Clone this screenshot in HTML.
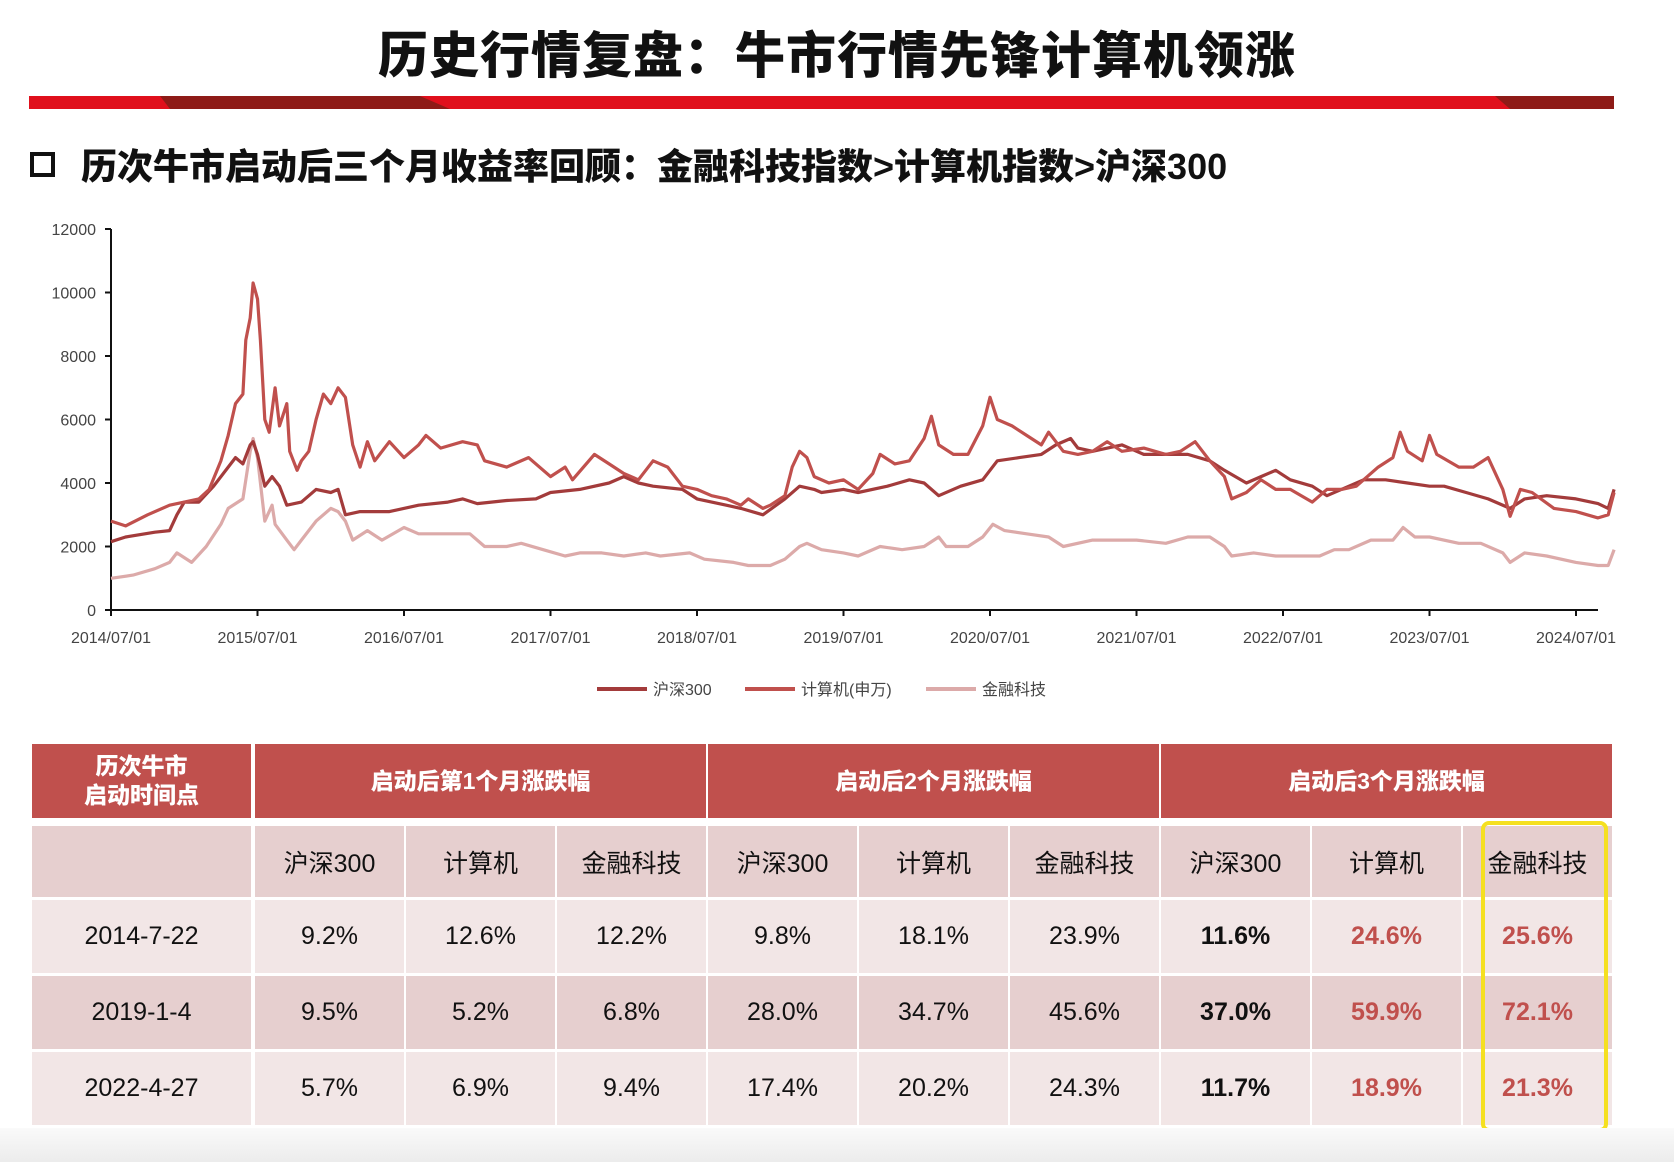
<!DOCTYPE html>
<html><head><meta charset="utf-8">
<style>
body{margin:0;width:1674px;height:1162px;position:relative;overflow:hidden;background:#fff;font-family:"Liberation Sans","Noto Sans CJK SC",sans-serif;}
.abs{position:absolute;}
#title{left:0;width:1674px;top:16px;text-align:center;font-size:50px;font-weight:900;color:#111;letter-spacing:1px;font-family:"Noto Sans CJK SC",sans-serif;}
#sub{left:81px;top:138px;font-size:36px;font-weight:900;color:#111;font-family:"Liberation Sans","Noto Sans CJK SC",sans-serif;}
#box{left:30px;top:152px;width:17px;height:17px;border:4px solid #111;}
.cell{position:absolute;display:flex;align-items:center;justify-content:center;text-align:center;font-size:25px;color:#111;box-sizing:border-box;font-family:"Liberation Sans","Noto Sans CJK SC",sans-serif;}
.hd{background:#c0504d;color:#fff;font-weight:900;font-size:23px;line-height:29px;}
</style></head><body>
<div id="title" class="abs">历史行情复盘：牛市行情先锋计算机领涨</div>
<svg class="abs" style="left:0;top:0" width="1674" height="130">
<rect x="29" y="96" width="1585" height="13" fill="#e0101c"/>
<polygon points="160,96 420,96 450,109 170,109" fill="#8e1b17"/>
<polygon points="1495,96 1614,96 1614,109 1510,109" fill="#8e1b17"/>
</svg>
<div id="box" class="abs"></div>
<div id="sub" class="abs">历次牛市启动后三个月收益率回顾：金融科技指数&gt;计算机指数&gt;沪深300</div>
<svg id="chart" class="abs" style="left:0;top:0" width="1674" height="720"></svg>
<div id="tbl"></div>
<div class="abs" style="left:1481px;top:821px;width:119px;height:303px;border:4px solid #f5e020;border-radius:8px"></div>
<div class="abs" style="left:0;top:1128px;width:1674px;height:34px;background:linear-gradient(#fafafa,#ececec)"></div>
<script>
const yTicks=[0,2000,4000,6000,8000,10000,12000];
const xTickLabels=["2014/07/01","2015/07/01","2016/07/01","2017/07/01","2018/07/01","2019/07/01","2020/07/01","2021/07/01","2022/07/01","2023/07/01","2024/07/01"];
const seriesNames=["沪深300","计算机(申万)","金融科技"];
const hs300T=[2014.5,2014.6,2014.8,2014.9,2014.95,2015.0,2015.1,2015.2,2015.3,2015.35,2015.4,2015.45,2015.47,2015.5,2015.55,2015.6,2015.65,2015.7,2015.8,2015.9,2016.0,2016.05,2016.1,2016.2,2016.4,2016.6,2016.8,2016.9,2017.0,2017.2,2017.4,2017.5,2017.7,2017.9,2018.0,2018.1,2018.2,2018.4,2018.5,2018.7,2018.8,2018.95,2019.1,2019.2,2019.3,2019.35,2019.5,2019.6,2019.8,2019.95,2020.05,2020.15,2020.3,2020.45,2020.55,2020.7,2020.85,2020.95,2021.05,2021.1,2021.2,2021.4,2021.55,2021.7,2021.85,2022.0,2022.1,2022.25,2022.35,2022.45,2022.55,2022.7,2022.8,2022.95,2023.05,2023.2,2023.35,2023.5,2023.6,2023.75,2023.9,2024.05,2024.15,2024.3,2024.5,2024.65,2024.72,2024.76];
const hs300V=[2150,2300,2450,2500,3000,3400,3400,3900,4500,4800,4600,5200,5300,4900,3900,4200,3900,3300,3400,3800,3700,3800,3000,3100,3100,3300,3400,3500,3350,3450,3500,3700,3800,4000,4200,4000,3900,3800,3500,3300,3200,3000,3500,3900,3800,3700,3800,3700,3900,4100,4000,3600,3900,4100,4700,4800,4900,5200,5400,5100,5000,5200,4900,4900,4900,4700,4400,4000,4200,4400,4100,3900,3600,3900,4100,4100,4000,3900,3900,3700,3500,3200,3500,3600,3500,3350,3200,3800];
const compT=[2014.5,2014.6,2014.75,2014.9,2015.0,2015.1,2015.17,2015.25,2015.3,2015.35,2015.4,2015.42,2015.45,2015.47,2015.5,2015.52,2015.55,2015.58,2015.62,2015.65,2015.7,2015.72,2015.77,2015.8,2015.85,2015.9,2015.95,2016.0,2016.05,2016.1,2016.15,2016.2,2016.25,2016.3,2016.4,2016.5,2016.6,2016.65,2016.75,2016.9,2017.0,2017.05,2017.2,2017.35,2017.5,2017.6,2017.65,2017.8,2017.9,2018.0,2018.1,2018.2,2018.3,2018.4,2018.5,2018.6,2018.7,2018.8,2018.85,2018.95,2019.0,2019.1,2019.15,2019.2,2019.25,2019.3,2019.4,2019.5,2019.6,2019.7,2019.75,2019.85,2019.95,2020.05,2020.1,2020.15,2020.25,2020.35,2020.45,2020.5,2020.55,2020.65,2020.75,2020.85,2020.9,2021.0,2021.1,2021.2,2021.3,2021.4,2021.55,2021.7,2021.8,2021.9,2022.0,2022.1,2022.15,2022.25,2022.35,2022.45,2022.55,2022.7,2022.8,2022.9,2023.0,2023.15,2023.25,2023.3,2023.35,2023.45,2023.5,2023.55,2023.7,2023.8,2023.9,2024.0,2024.05,2024.12,2024.2,2024.35,2024.5,2024.65,2024.72,2024.76];
const compV=[2800,2650,3000,3300,3400,3500,3800,4700,5500,6500,6800,8500,9200,10300,9800,8500,6000,5600,7000,5800,6500,5000,4400,4700,5000,6000,6800,6500,7000,6700,5200,4500,5300,4700,5300,4800,5200,5500,5100,5300,5200,4700,4500,4800,4200,4500,4100,4900,4600,4300,4100,4700,4500,3900,3800,3600,3500,3300,3500,3200,3300,3600,4500,5000,4800,4200,4000,4100,3800,4300,4900,4600,4700,5400,6100,5200,4900,4900,5800,6700,6000,5800,5500,5200,5600,5000,4900,5000,5300,5000,5100,4900,5000,5300,4700,4200,3500,3700,4100,3800,3800,3400,3800,3800,3900,4500,4800,5600,5000,4700,5500,4900,4500,4500,4800,3800,2950,3800,3700,3200,3100,2900,3000,3700];
const finT=[2014.5,2014.65,2014.8,2014.9,2014.95,2015.05,2015.15,2015.25,2015.3,2015.4,2015.45,2015.47,2015.5,2015.55,2015.6,2015.62,2015.7,2015.75,2015.8,2015.9,2016.0,2016.05,2016.1,2016.15,2016.25,2016.35,2016.5,2016.6,2016.8,2016.95,2017.05,2017.2,2017.3,2017.45,2017.6,2017.7,2017.85,2018.0,2018.15,2018.25,2018.45,2018.55,2018.75,2018.85,2019.0,2019.1,2019.2,2019.25,2019.35,2019.5,2019.6,2019.75,2019.9,2020.05,2020.15,2020.2,2020.35,2020.45,2020.52,2020.6,2020.75,2020.9,2021.0,2021.2,2021.35,2021.5,2021.7,2021.85,2022.0,2022.1,2022.15,2022.3,2022.45,2022.6,2022.75,2022.85,2022.95,2023.1,2023.25,2023.32,2023.4,2023.5,2023.7,2023.85,2024.0,2024.05,2024.15,2024.3,2024.5,2024.65,2024.72,2024.76];
const finV=[1000,1100,1300,1500,1800,1500,2000,2700,3200,3500,5000,5400,4800,2800,3300,2700,2200,1900,2200,2800,3200,3100,2800,2200,2500,2200,2600,2400,2400,2400,2000,2000,2100,1900,1700,1800,1800,1700,1800,1700,1800,1600,1500,1400,1400,1600,2000,2100,1900,1800,1700,2000,1900,2000,2300,2000,2000,2300,2700,2500,2400,2300,2000,2200,2200,2200,2100,2300,2300,2000,1700,1800,1700,1700,1700,1900,1900,2200,2200,2600,2300,2300,2100,2100,1800,1500,1800,1700,1500,1400,1400,1900];
const colors=["#a33b3b","#c0504d","#dcaaa9"];

const NS="http://www.w3.org/2000/svg";
const svg=document.getElementById('chart');
const X0=111,YR=146.5,Y0=610,YTOP=229;
const xS=t=>X0+(t-2014.5)*YR;
const yS=v=>Y0-(v/12000)*(Y0-YTOP);
function mk(tag,attrs){const e=document.createElementNS(NS,tag);for(const k in attrs)e.setAttribute(k,attrs[k]);svg.appendChild(e);return e;}
let ax=mk('line',{x1:X0,y1:Y0,x2:1598,y2:Y0,stroke:'#111','stroke-width':2});


let ay=mk('line',{x1:X0,y1:Y0,x2:X0,y2:YTOP,stroke:'#111','stroke-width':2});


yTicks.forEach(v=>{
  mk('line',{x1:X0-6,x2:X0,y1:yS(v),y2:yS(v),stroke:'#111','stroke-width':2});
  const t=mk('text',{x:X0-15,y:yS(v)+6,'text-anchor':'end','font-size':16,fill:'#444','font-family':'Liberation Sans,sans-serif'});
  t.textContent=v;
  
  
});
xTickLabels.forEach((lb,i)=>{
  const x=xS(2014.5+i);
  mk('line',{x1:x,x2:x,y1:Y0,y2:Y0+6,stroke:'#111','stroke-width':2});
  const t=mk('text',{x:x,y:643,'text-anchor':'middle','font-size':16,fill:'#444','font-family':'Liberation Sans,sans-serif'});
  t.textContent=lb;
  
  
});
const series=[[finT,finV,2],[hs300T,hs300V,0],[compT,compV,1]];
series.forEach(([T,V,ci])=>{
  const d=T.map((t,i)=>(i?'L':'M')+xS(t).toFixed(1)+','+yS(V[i]).toFixed(1)).join('');
  const p=mk('path',{d:d,fill:'none',stroke:colors[ci],'stroke-width':3.2,'stroke-linejoin':'round'});
  
  
});
const legX=[597,745,926];
seriesNames.forEach((n,i)=>{
  mk('line',{x1:legX[i],x2:legX[i]+50,y1:689,y2:689,stroke:colors[i],'stroke-width':4});
  const t=mk('text',{x:legX[i]+56,y:695,'font-size':16,fill:'#444','font-family':'Liberation Sans,Noto Sans CJK SC,sans-serif'});
  t.textContent=n;
  
  
});

const dates=["2014-7-22","2019-1-4","2022-4-27"];
const subHeads=["沪深300","计算机","金融科技"];
const groups=["启动后第1个月涨跌幅","启动后2个月涨跌幅","启动后3个月涨跌幅"];
const vals=[["9.2%","12.6%","12.2%","9.8%","18.1%","23.9%","11.6%","24.6%","25.6%"],
["9.5%","5.2%","6.8%","28.0%","34.7%","45.6%","37.0%","59.9%","72.1%"],
["5.7%","6.9%","9.4%","17.4%","20.2%","24.3%","11.7%","18.9%","21.3%"]];
const tbl=document.getElementById('tbl');
const colX=[32,253];for(let i=1;i<=9;i++)colX.push(253+i*151);
function cell(x,y,w,h,txt,cls,bg,name){
  const c=document.createElement('div');c.className='cell '+(cls||'');
  c.style.left=x+'px';c.style.top=y+'px';c.style.width=w+'px';c.style.height=h+'px';
  if(bg)c.style.background=bg;c.innerHTML=txt;tbl.appendChild(c);
  
  
  return c;
}
cell(32,744,219,74,'历次牛市<br>启动时间点','hd',null,'header-start-date');
groups.forEach((g,i)=>cell(colX[1+i*3]+2,744,453-2,74,g,'hd',null,'header-group'));
const rowY=[826,900,976,1052],rowH=[71,73,73,73];
const bgs=["#e6cfcf","#f2e6e6","#e6cfcf","#f2e6e6"];
cell(32,rowY[0],219,rowH[0],'',null,bgs[0],'subheader-blank');
for(let j=0;j<9;j++)cell(colX[1+j]+2,rowY[0],149,rowH[0],subHeads[j%3],null,bgs[0],'subheader-cell');
dates.forEach((d,r)=>{
  cell(32,rowY[r+1],219,rowH[r+1],d,null,bgs[r+1],'row-date');
  vals[r].forEach((v,j)=>{
    const c=cell(colX[1+j]+2,rowY[r+1],149,rowH[r+1],v,null,bgs[r+1],'value-cell');
    if(j==6){c.style.fontWeight='bold';}
    if(j>=7){c.style.fontWeight='bold';c.style.color='#c0504d';}
  });
});
</script>
</body></html>
